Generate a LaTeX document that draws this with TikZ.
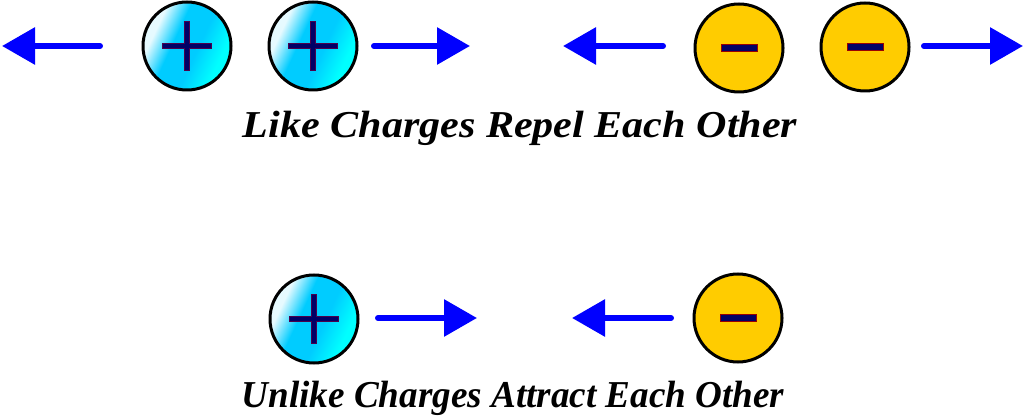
\documentclass[tikz,border=0pt]{standalone}
\usepackage{fontspec}
\setmainfont{Liberation Serif}
\usetikzlibrary{arrows.meta}
\definecolor{pc1}{HTML}{E6FAFF}
\definecolor{pc2}{HTML}{00CCFF}
\definecolor{pc3}{HTML}{00FFFF}
\definecolor{mfill}{HTML}{FFCC00}
\definecolor{signfill}{HTML}{000066}
\definecolor{arrowblue}{HTML}{0000FF}
\pgfdeclarehorizontalshading{chargeplus}{100bp}{color(0bp)=(pc1); color(30bp)=(pc1); color(42bp)=(pc2); color(56bp)=(pc2); color(70bp)=(pc3); color(100bp)=(pc3)}
\begin{document}
\begin{tikzpicture}[x=1pt,y=-1pt,
  charge/.style={circle, draw=black, line width=3pt, minimum size=88pt, inner sep=0pt},
  poscharge/.style={charge, shading=chargeplus, shading angle=-25,
    path picture={
      \fill[signfill, draw=violet!60!black, line width=0.4pt]
        ([xshift=-24.5pt,yshift=-2.5pt]path picture bounding box.center) rectangle ([xshift=24.5pt,yshift=2.5pt]path picture bounding box.center);
      \fill[signfill, draw=violet!60!black, line width=0.4pt]
        ([xshift=-2.5pt,yshift=-24.5pt]path picture bounding box.center) rectangle ([xshift=2.5pt,yshift=24.5pt]path picture bounding box.center);
      \fill[signfill]
        ([xshift=-24.3pt,yshift=-2.3pt]path picture bounding box.center) rectangle ([xshift=24.3pt,yshift=2.3pt]path picture bounding box.center);
    }},
  negcharge/.style={charge, fill=mfill,
    path picture={
      \fill[signfill, draw=red!60!black, line width=0.4pt]
        ([xshift=-18pt,yshift=-3.5pt]path picture bounding box.center) rectangle ([xshift=18pt,yshift=3.5pt]path picture bounding box.center);
    }},
  force/.style={draw=arrowblue, line width=6pt, line cap=round, -{Triangle[length=33pt,width=36pt]}},
  caption/.style={font=\fontsize{38}{40}\selectfont\bfseries\itshape, inner sep=0pt, anchor=base}
]
\useasboundingbox (0,0) rectangle (1024,419);

% top row
\node[poscharge] (p1) at (187,46) {};
\node[poscharge] (p2) at (313,46) {};
\node[negcharge] (m1) at (739,48) {};
\node[negcharge] (m2) at (865,47) {};

\coordinate (a1s) at (100,46); \coordinate (a1e) at (2,46);
\coordinate (a2s) at (374,46); \coordinate (a2e) at (470,46);
\coordinate (a3s) at (663,46); \coordinate (a3e) at (563,46);
\coordinate (a4s) at (924,46); \coordinate (a4e) at (1023,46);
\draw[force] (a1s) -- (a1e);
\draw[force] (a2s) -- (a2e);
\draw[force] (a3s) -- (a3e);
\draw[force] (a4s) -- (a4e);

\node[caption] (t1) at (520,138) {\scalebox{1.108}[1]{Like Charges Repel Each Other}};

% bottom row
\node[poscharge] (p3) at (314,319) {};
\node[negcharge] (m3) at (738,318) {};
\coordinate (b1s) at (378,318); \coordinate (b1e) at (477,318);
\coordinate (b2s) at (671,318); \coordinate (b2e) at (572,318);
\draw[force] (b1s) -- (b1e);
\draw[force] (b2s) -- (b2e);

\node[caption] (t2) at (513,407) {\scalebox{0.977}[1]{Unlike Charges Attract Each Other}};
\end{tikzpicture}
\end{document}
